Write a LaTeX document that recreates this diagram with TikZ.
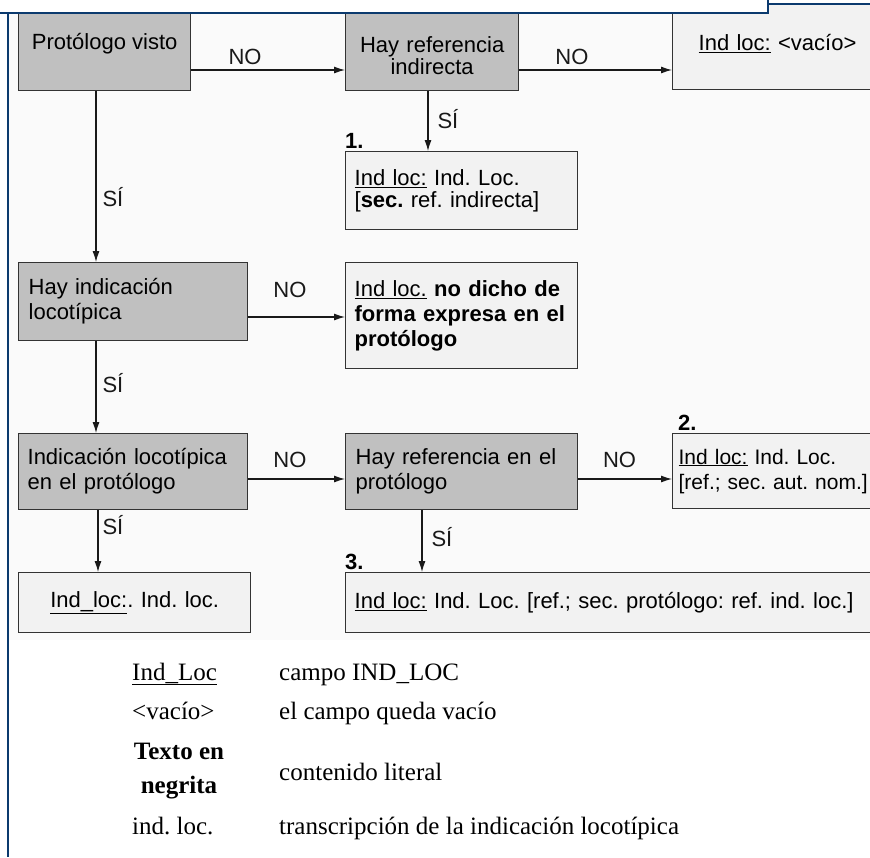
\documentclass[tikz,border=0pt]{standalone}
\usepackage{fontspec}
\setmainfont{Liberation Serif}
\newfontfamily\flowfont{Liberation Sans}
\usetikzlibrary{arrows.meta}
\definecolor{frameblue}{HTML}{0B3A6E}
\definecolor{boxgray}{HTML}{C0C0C0}
\definecolor{boxlight}{HTML}{F2F2F2}
\definecolor{bgpanel}{HTML}{FAFAFA}
\frenchspacing
\begin{document}
\begin{tikzpicture}[x=1pt,y=-1pt,
  every node/.style={font=\flowfont\fontsize{22}{25}\selectfont},
  decbox/.style={draw=black!80, line width=1.3pt, fill=boxgray, anchor=north west, inner xsep=10pt, inner ysep=0pt, align=left},
  resbox/.style={decbox, fill=boxlight},
  arr/.style={-{Latex[length=11pt,width=7pt]}, line width=1.1pt, black!90},
  lab/.style={inner sep=0pt},
  num/.style={font=\flowfont\bfseries\fontsize{22}{25}\selectfont, inner sep=0pt, anchor=south west},
  legend/.style={font=\fontsize{25}{30}\selectfont, anchor=base west, inner sep=0pt},
]
\useasboundingbox (0,0) rectangle (870,857);
\clip (0,0) rectangle (870,857);
\fill[white] (0,0) rectangle (870,857);
\fill[bgpanel] (9,13) rectangle (870,640);

% decision and result boxes
\node[decbox, minimum width=172pt, minimum height=94pt, inner xsep=0pt] (A) at (18,-4) {Protólogo visto};
\node[decbox, minimum width=173pt, minimum height=94pt, text width=163pt, inner xsep=5pt, align=center, font=\flowfont\fontsize{22}{22}\selectfont] (B) at (345,-4) {\strut\\Hay referencia\\indirecta};
\node[resbox, minimum width=220pt, minimum height=93pt, text width=180pt, inner xsep=26pt] (C) at (672,-4) {\underline{Ind loc:} <vacío>};
\node[resbox, minimum width=232pt, minimum height=78pt, text width=214pt, inner xsep=9pt, font=\flowfont\fontsize{22}{22}\selectfont,
  label={[num, anchor=south west, yshift=2pt]north west:1.}] (R1) at (345,151) {\underline{Ind loc:} Ind. Loc.\\{}[\textbf{sec.} ref. indirecta]};
\node[decbox, minimum width=229pt, minimum height=78pt, text width=209pt, inner xsep=10pt] (D) at (18,262) {Hay indicación\\locotípica};
\node[resbox, minimum width=232pt, minimum height=106pt, text width=220pt, inner xsep=6pt] (E) at (345,262) {\hspace{3pt}\underline{Ind loc.} \textbf{no dicho de}\\\hspace{3pt}\textbf{forma expresa en el}\\\hspace{3pt}\textbf{protólogo}};
\node[decbox, minimum width=229pt, minimum height=76pt, text width=215pt, inner xsep=7pt] (F) at (18,433) {\hspace{2pt}Indicación locotípica\\\hspace{2pt}en el protólogo};
\node[decbox, minimum width=232pt, minimum height=76pt, text width=216pt, inner xsep=8pt] (G) at (345,433) {\hspace{2pt}Hay referencia en el\\\hspace{2pt}protólogo};
\node[resbox, minimum width=220pt, minimum height=75pt, text width=208pt, inner xsep=6pt, font=\flowfont\fontsize{21}{25}\selectfont,
  label={[num, anchor=south west, xshift=6pt, yshift=2pt]north west:2.}] (H) at (672,433) {\underline{Ind loc:} Ind. Loc.\\{}[ref.; sec. aut. nom.]};
\node[resbox, minimum width=232pt, minimum height=60pt, text width=222pt, inner xsep=5pt, align=center] (I) at (18,572) {\underline{Ind\_loc:}. Ind. loc.};
\node[resbox, minimum width=540pt, minimum height=60pt, text width=522pt, inner xsep=9pt,
  label={[num, anchor=south west, yshift=2pt]north west:3.}] (J) at (345,572) {\underline{Ind loc:} Ind. Loc. [ref.; sec. protólogo: ref. ind. loc.]};

% connectors
\draw[arr] (A.east |- 0,70) -- (B.west |- 0,70) node[lab, pos=0.35, yshift=13pt] {NO};
\draw[arr] (B.east |- 0,70) -- (C.west |- 0,70) node[lab, pos=0.345, yshift=13pt] {NO};
\draw[arr] (B.south -| 428,0) -- (R1.north -| 428,0) node[lab, pos=0.46, anchor=west, xshift=9pt] {SÍ};
\draw[arr] (A.south -| 96,0) -- (D.north -| 96,0) node[lab, pos=0.62, anchor=west, xshift=6pt] {SÍ};
\draw[arr] (D.east |- 0,317) -- (E.west |- 0,317) node[lab, pos=0.43, yshift=27pt] {NO};
\draw[arr] (D.south -| 96,0) -- (F.north -| 96,0) node[lab, pos=0.45, anchor=west, xshift=6pt] {SÍ};
\draw[arr] (F.east |- 0,479) -- (G.west |- 0,479) node[lab, pos=0.43, yshift=19pt] {NO};
\draw[arr] (G.east |- 0,479) -- (H.west |- 0,479) node[lab, pos=0.44, yshift=19pt] {NO};
\draw[arr] (F.south -| 98,0) -- (I.north -| 98,0) node[lab, pos=0.24, anchor=west, xshift=4pt] {SÍ};
\draw[arr] (G.south -| 422,0) -- (J.north -| 422,0) node[lab, pos=0.44, anchor=west, xshift=9pt] {SÍ};

% legend
\node[legend] (k1) at (132,680) {\underline{Ind\_Loc}};
\node[legend] (v1) at (279,680) {campo IND\_LOC};
\node[legend] (k2) at (132,719) {<vacío>};
\node[legend] (v2) at (279,719) {el campo queda vacío};
\node[legend, anchor=base] (k3a) at (179,759) {\textbf{Texto en}};
\node[legend, anchor=base] (k3b) at (179,793) {\textbf{negrita}};
\node[legend] (v3) at (279,780) {contenido literal};
\node[legend] (k4) at (132,834) {ind. loc.};
\node[legend] (v4) at (279,834) {transcripción de la indicación locotípica};

% window frame
\fill[white] (0,0) rectangle (768,12);
\fill[white] (768,0) rectangle (870,3);
\draw[frameblue, line width=2.2pt] (0,13) -- (768,13) -- (768,0);
\draw[frameblue, line width=2.2pt] (768,4) -- (870,4);
\draw[frameblue, line width=2.2pt] (8,13) -- (8,857);
\end{tikzpicture}
\end{document}
